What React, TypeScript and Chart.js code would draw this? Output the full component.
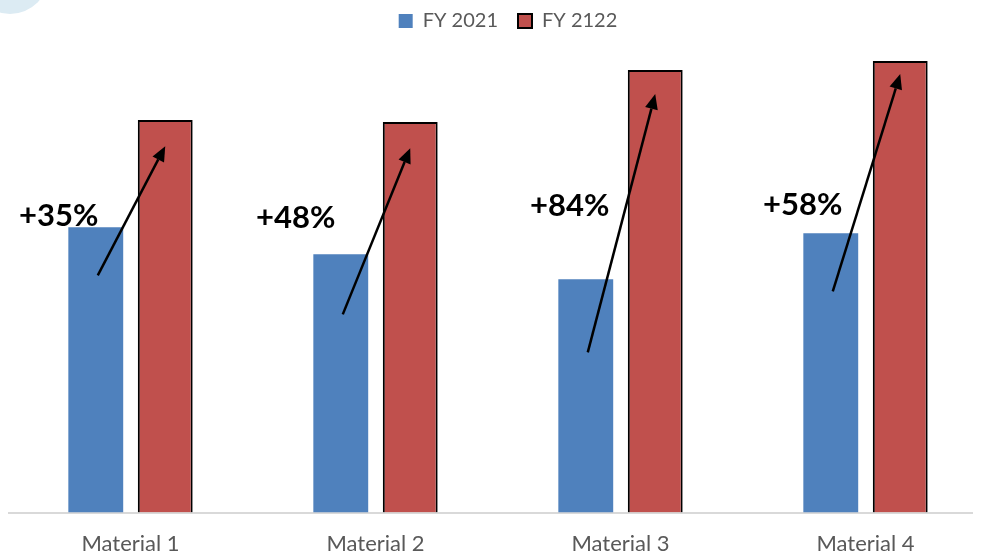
import React, { useEffect, useRef } from "react";
import { Chart, registerables } from "chart.js";
Chart.register(...registerables);

const categories = ["Material 1", "Material 2", "Material 3", "Material 4"];
const fy2021 = [285, 258, 233, 279];
const fy2122 = [392, 390, 442, 451];
const growthLabels = ["+35%", "+48%", "+84%", "+58%"];
const arrowFrom = [237, 198, 160, 221];
const arrowTo = [366, 364, 418, 438];
const labelLevel = [296, 294, 306, 307];
const labelShift = [-37, -45, -16, -28];

const FONT = "Lato, 'Open Sans', sans-serif";

const legendShift = {
  id: "legendShift",
  afterLayout(chart: any) {
    if (chart.legend) {
      chart.legend.left += 10;
      chart.legend.right += 10;
    }
  },
};

const arrowPlugin = {
  id: "growthArrows",
  afterDatasetsDraw(chart: any) {
    const ctx = chart.ctx;
    const y = chart.scales.y;
    const m0 = chart.getDatasetMeta(0).data;
    const m1 = chart.getDatasetMeta(1).data;
    ctx.save();
    for (let i = 0; i < categories.length; i++) {
      const x0 = m0[i].x + 2;
      const y0 = y.getPixelForValue(arrowFrom[i]);
      const x1 = m1[i].x;
      const y1 = y.getPixelForValue(arrowTo[i]);
      const ang = Math.atan2(y1 - y0, x1 - x0);
      const head = 15;
      const hw = 6.5;
      const bx = x1 - head * Math.cos(ang);
      const by = y1 - head * Math.sin(ang);
      ctx.strokeStyle = "#000";
      ctx.lineWidth = 2.5;
      ctx.beginPath();
      ctx.moveTo(x0, y0);
      ctx.lineTo(bx, by);
      ctx.stroke();
      ctx.fillStyle = "#000";
      ctx.beginPath();
      ctx.moveTo(x1, y1);
      ctx.lineTo(bx + hw * Math.sin(ang), by - hw * Math.cos(ang));
      ctx.lineTo(bx - hw * Math.sin(ang), by + hw * Math.cos(ang));
      ctx.closePath();
      ctx.fill();

      ctx.font = `bold 31px ${FONT}`;
      ctx.textAlign = "center";
      ctx.textBaseline = "middle";
      ctx.fillText(growthLabels[i], m0[i].x + labelShift[i], y.getPixelForValue(labelLevel[i]));
    }
    ctx.restore();
  },
};

export default function App() {
  const ref = useRef<HTMLCanvasElement | null>(null);
  useEffect(() => {
    if (!ref.current) return;
    const chart = new Chart(ref.current, {
      type: "bar",
      data: {
        labels: categories,
        datasets: [
          {
            label: "FY 2021",
            data: fy2021,
            backgroundColor: "#4f81bd",
            borderWidth: 0,
            categoryPercentage: 0.567,
            barPercentage: 0.79,
          },
          {
            label: "FY 2122",
            data: fy2122,
            backgroundColor: "#c0504d",
            borderColor: "#000000",
            borderWidth: 2,
            borderSkipped: "bottom",
            categoryPercentage: 0.567,
            barPercentage: 0.79,
          },
        ],
      },
      options: {
        responsive: false,
        animation: false,
        layout: { padding: { left: 0, right: 20, top: 0, bottom: 0 } },
        plugins: {
          legend: {
            position: "top",
            labels: {
              boxWidth: 14,
              boxHeight: 14,
              color: "#595959",
              font: { family: FONT, size: 20 },
              padding: 20,
            },
          },
          tooltip: { enabled: false },
        },
        scales: {
          x: {
            grid: { display: false, drawTicks: false },
            border: { display: true, color: "#d9d9d9", width: 2 },
            ticks: {
              color: "#595959",
              font: { family: FONT, size: 22 },
              padding: 18,
            },
          },
          y: {
            display: false,
            min: 0,
            max: 471,
          },
        },
      },
      plugins: [arrowPlugin, legendShift],
    });
    return () => chart.destroy();
  }, []);
  return (
    <div style={{ position: "relative", width: 973, height: 551, overflow: "hidden" }}>
      <canvas
        ref={ref}
        width={1000}
        height={584}
        style={{ width: 1000, height: 584, display: "block", marginTop: -17 }}
      />
      <div
        style={{
          position: "fixed",
          left: -29,
          top: -64,
          width: 78,
          height: 78,
          borderRadius: "50%",
          background: "#dcebf3",
        }}
      />
    </div>
  );
}
